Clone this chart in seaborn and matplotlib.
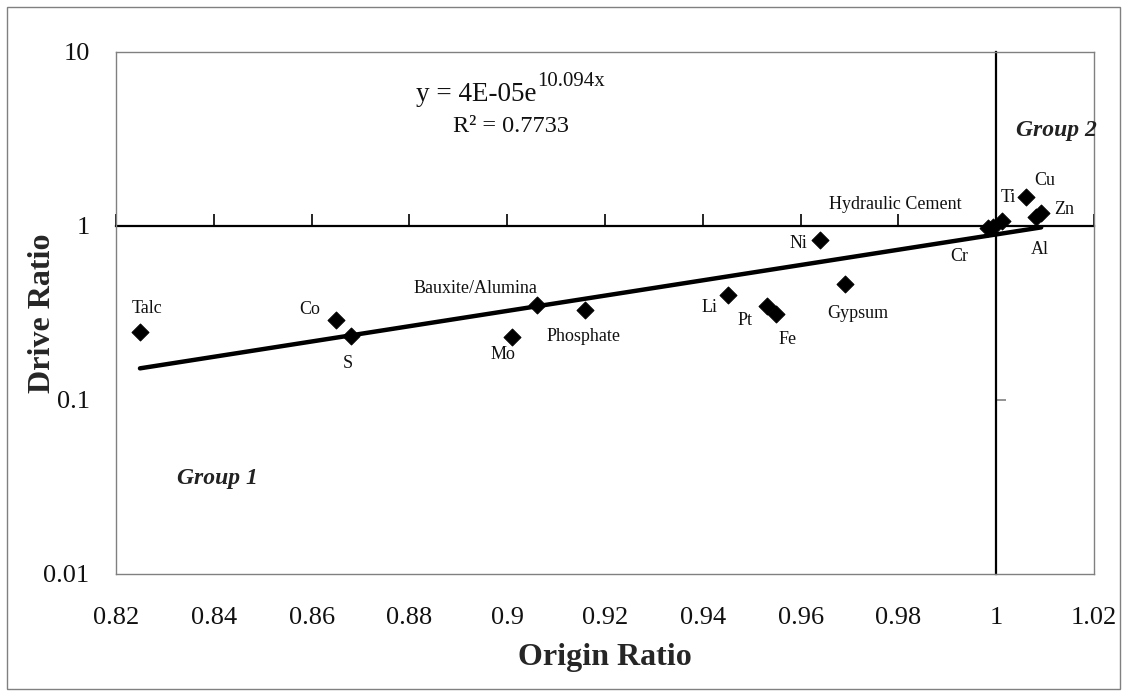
import numpy as np
import pandas as pd
import matplotlib
matplotlib.use("Agg")
import matplotlib.pyplot as plt
from matplotlib.patches import Rectangle
from matplotlib.ticker import FixedLocator, NullLocator
import seaborn as sns

# ---------------- data ----------------
minerals = ["Talc", "Co", "S", "Mo", "Bauxite/Alumina", "Phosphate", "Li", "Pt",
            "Fe", "Ni", "Gypsum", "Cr", "Hydraulic Cement", "Ti", "Cu", "Al", "Zn"]
origin_ratio = [0.8249, 0.8650, 0.8680, 0.9010, 0.9061, 0.9160, 0.9452, 0.9531,
                0.9550, 0.9640, 0.9690, 0.9983, 0.9993, 1.0012, 1.0061, 1.0081, 1.0092]
drive_ratio = [0.246, 0.288, 0.233, 0.230, 0.352, 0.329, 0.401, 0.347,
               0.312, 0.831, 0.464, 0.974, 0.987, 1.068, 1.47, 1.13, 1.19]

x_ticks = [0.82, 0.84, 0.86, 0.88, 0.90, 0.92, 0.94, 0.96, 0.98, 1.00, 1.02]
x_tick_labels = ["0.82", "0.84", "0.86", "0.88", "0.9", "0.92", "0.94", "0.96", "0.98", "1", "1.02"]
y_ticks = [0.01, 0.1, 1, 10]
y_tick_labels = ["0.01", "0.1", "1", "10"]

equation_main = "y = 4E-05e"
equation_exp = "10.094x"
r2_text = "R² = 0.7733"

# label offsets (pixels) for annotations
label_offsets = {
    "Talc": (7, 23), "Co": (-26, 11), "S": (-3, -27), "Mo": (-9, -17),
    "Bauxite/Alumina": (-62, 16), "Phosphate": (-2, -26), "Li": (-19, -12),
    "Pt": (-22, -15), "Fe": (11, -25), "Ni": (-22, -4), "Gypsum": (13, -29),
    "Hydraulic Cement": (-97, 22), "Cr": (-29, -29), "Ti": (6, 24),
    "Cu": (19, 16), "Zn": (23, 3), "Al": (4, -33),
}

df = pd.DataFrame({"mineral": minerals, "origin": origin_ratio, "drive": drive_ratio})

# exponential trend line (least squares on log y)
b, ln_a = np.polyfit(df["origin"], np.log(df["drive"]), 1)
trend_x = np.array([df["origin"].min(), df["origin"].max()])
trend = pd.DataFrame({"origin": trend_x, "drive": np.exp(ln_a) * np.exp(b * trend_x)})

# ---------------- plot ----------------
sns.set_theme(style="white")
plt.rcParams["font.family"] = ["Liberation Serif", "DejaVu Serif"]

fig = plt.figure(figsize=(11.28, 6.96), dpi=100)
ax = fig.add_axes([116 / 1128, 1 - 574 / 696, 978 / 1128, 522 / 696])

ax.set_yscale("log")
ax.set_xlim(0.82, 1.02)
ax.set_ylim(0.01, 10)

sns.lineplot(data=trend, x="origin", y="drive", ax=ax, color="black", lw=3.2,
             zorder=3, legend=False)
sns.scatterplot(data=df, x="origin", y="drive", ax=ax, marker="D", s=75,
                color="black", edgecolor="black", zorder=4, legend=False)

for _, r in df.iterrows():
    dx, dy = label_offsets[r["mineral"]]
    ax.annotate(r["mineral"], (r["origin"], r["drive"]), xytext=(dx, dy),
                textcoords="offset pixels", ha="center", va="center",
                fontsize=13, color="#111111")

# frame
for sp in ax.spines.values():
    sp.set_color("#808080")
    sp.set_linewidth(1.0)
    sp.set_visible(True)

ax.xaxis.set_major_locator(FixedLocator(x_ticks))
ax.set_xticklabels(x_tick_labels)
ax.yaxis.set_major_locator(FixedLocator(y_ticks))
ax.set_yticklabels(y_tick_labels)
ax.yaxis.set_minor_locator(NullLocator())
ax.tick_params(axis="both", length=0, labelsize=19, colors="#111111")
ax.tick_params(axis="x", pad=24)
ax.tick_params(axis="y", pad=19)

ax.set_xlabel("Origin Ratio", fontsize=23, fontweight="bold", labelpad=10)
ax.set_ylabel("Drive Ratio", fontsize=23, fontweight="bold")
ax.yaxis.set_label_coords(-0.060, 0.5)

# crossing axes at x = 1 and y = 1
cross_y = (np.log10(1) - np.log10(0.01)) / (np.log10(10) - np.log10(0.01))
cross_x = (1.0 - 0.82) / (1.02 - 0.82)

secx = ax.secondary_xaxis(cross_y)
secx.xaxis.set_major_locator(FixedLocator(x_ticks))
secx.tick_params(axis="x", direction="in", length=9, width=1.2, color="black",
                 labelbottom=False, labeltop=False, bottom=True, top=False)
for sp in secx.spines.values():
    sp.set_visible(False)
secx.spines["bottom"].set_visible(True)
secx.spines["bottom"].set_color("black")
secx.spines["bottom"].set_linewidth(1.6)

secy = ax.secondary_yaxis(cross_x)
secy.yaxis.set_major_locator(FixedLocator([0.1, 1]))
secy.yaxis.set_minor_locator(NullLocator())
secy.tick_params(axis="y", which="both", direction="in", length=7, width=1.2,
                 color="#808080", labelleft=False, labelright=False, left=True, right=False)
for sp in secy.spines.values():
    sp.set_visible(False)
secy.spines["left"].set_visible(True)
secy.spines["left"].set_color("black")
secy.spines["left"].set_linewidth(1.6)

# equation, R^2 and group labels
eq_x = (537 - 116) / 978
ax.text(eq_x, 0.906, equation_main, transform=ax.transAxes, ha="right", va="baseline",
        fontsize=19.5, color="#111111")
ax.text(eq_x, 0.935, equation_exp, transform=ax.transAxes, ha="left", va="baseline",
        fontsize=15, color="#111111")
ax.text(0.404, 0.858, r2_text, transform=ax.transAxes, ha="center", va="center",
        fontsize=17.5, color="#111111")
ax.text(0.962, 0.849, "Group 2", transform=ax.transAxes, ha="center", va="center",
        fontsize=17, fontweight="bold", fontstyle="italic", color="#222222")
ax.text(0.104, 0.182, "Group 1", transform=ax.transAxes, ha="center", va="center",
        fontsize=17, fontweight="bold", fontstyle="italic", color="#222222")

# outer chart border
fig.patches.append(Rectangle((7 / 1128, 7 / 696), 1113 / 1128, 682 / 696,
                             transform=fig.transFigure, fill=False,
                             edgecolor="#808080", linewidth=1.0))

fig.savefig("out.png", dpi=100)
